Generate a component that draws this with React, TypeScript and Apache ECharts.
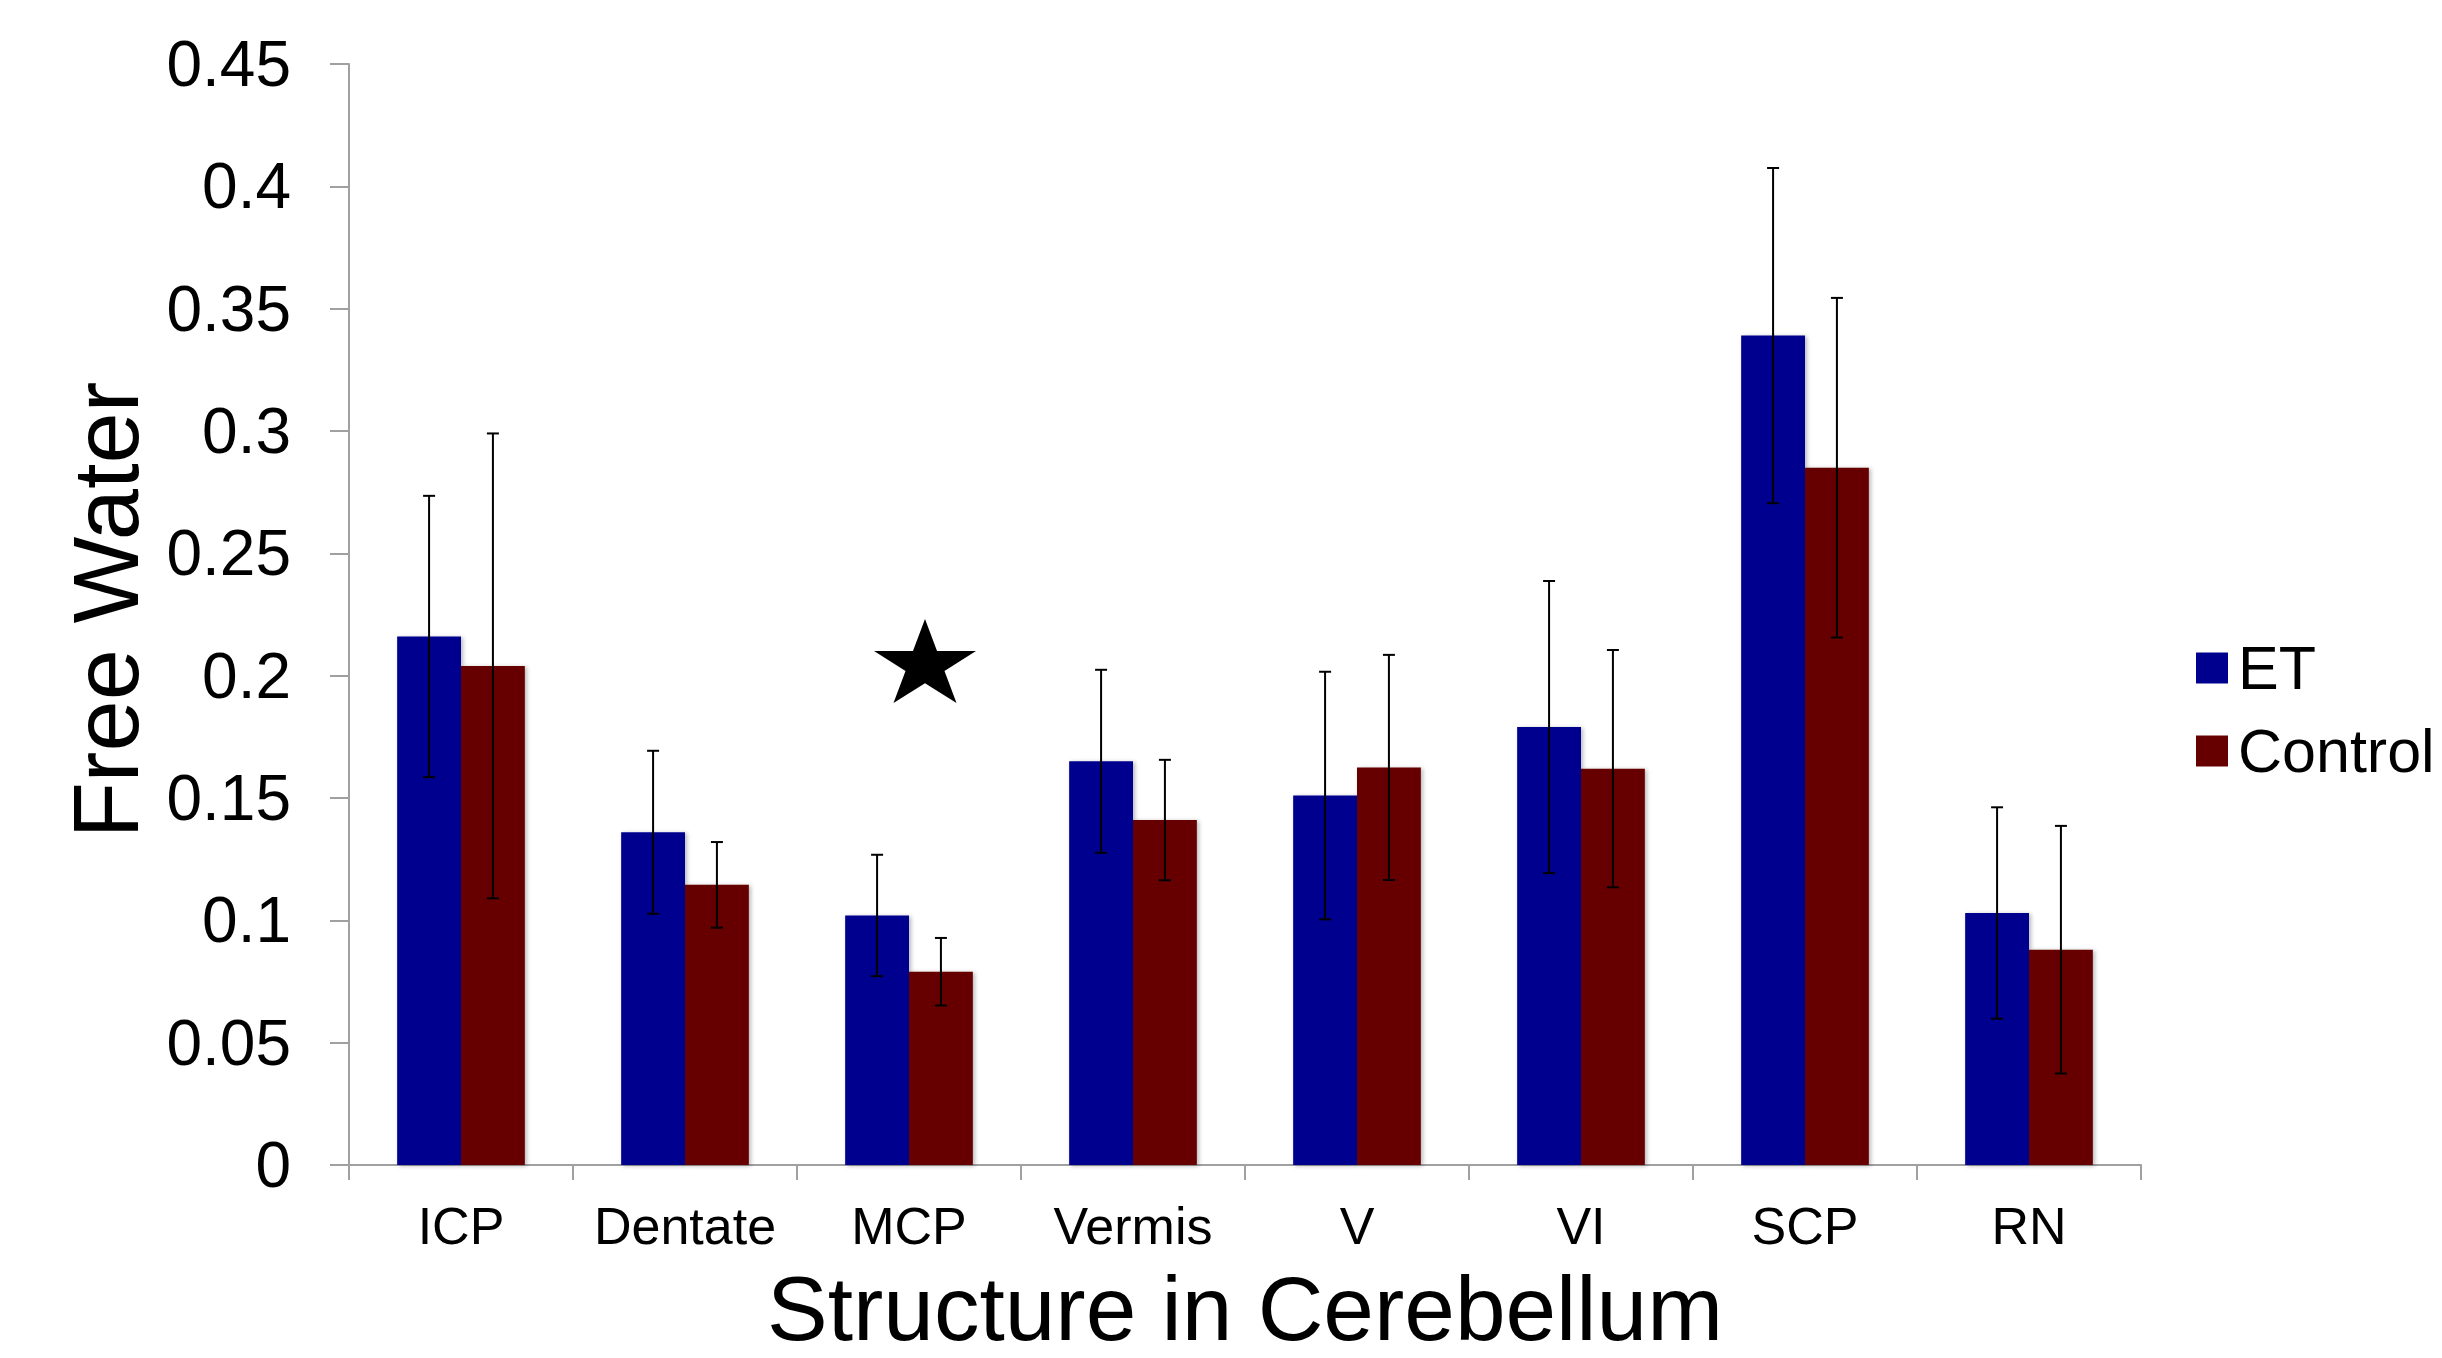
import React, { useEffect, useRef } from "react";
import * as echarts from "echarts";

const categories = ["ICP", "Dentate", "MCP", "Vermis", "V", "VI", "SCP", "RN"];
const etMeans = [0.216, 0.136, 0.102, 0.165, 0.151, 0.179, 0.339, 0.103];
const etErrors = [0.0575, 0.0333, 0.0248, 0.0374, 0.0506, 0.0597, 0.0685, 0.0432];
const controlMeans = [0.204, 0.1145, 0.079, 0.141, 0.1625, 0.162, 0.285, 0.088];
const controlErrors = [0.095, 0.0175, 0.0138, 0.0246, 0.046, 0.0485, 0.0694, 0.0506];
const seriesNames = ["ET", "Control"];
const yTicks = { min: 0, max: 0.45, interval: 0.05 };
const starMark = { category: "MCP", value: 0.206 };

const FONT = "'Liberation Sans', Arial, Helvetica, sans-serif";
const ET_COLOR = "#00008f";
const CONTROL_COLOR = "#660000";
const AXIS_COLOR = "#a0a0a0";
const CAT_GAP = 0.43;

const STAR_PATH =
  "path://M50,0 L61.23,34.55 L97.55,34.55 L68.16,55.9 L79.39,90.45 L50,69.1 L20.61,90.45 L31.84,55.9 L2.45,34.55 L38.77,34.55 Z";

function makeErrorSeries(name: string, means: number[], errs: number[], side: number) {
  return {
    type: "custom",
    name: name + " error",
    z: 5,
    silent: true,
    encode: { x: 0, y: 1 },
    data: means.map((m, i) => [i, m, errs[i]]),
    renderItem: (params: any, api: any) => {
      const idx = api.value(0);
      const mean = api.value(1);
      const err = api.value(2);
      const band = api.size([1, 0])[0];
      const off = side * band * ((1 - CAT_GAP) / 4);
      const top = api.coord([idx, mean + err]);
      const bot = api.coord([idx, mean - err]);
      const x = top[0] + off;
      const cap = 6;
      const style = { stroke: "#000", lineWidth: 2 };
      return {
        type: "group",
        children: [
          { type: "line", shape: { x1: x, y1: top[1], x2: x, y2: bot[1] }, style },
          { type: "line", shape: { x1: x - cap, y1: top[1], x2: x + cap, y2: top[1] }, style },
          { type: "line", shape: { x1: x - cap, y1: bot[1], x2: x + cap, y2: bot[1] }, style },
        ],
      };
    },
  };
}

export default function App() {
  const ref = useRef<HTMLDivElement>(null);

  useEffect(() => {
    document.body.style.margin = "0";
    if (!ref.current) return;
    const chart = echarts.init(ref.current, null, { renderer: "svg" });
    const barShadow = {
      shadowColor: "rgba(0,0,0,0.28)",
      shadowBlur: 4,
      shadowOffsetX: 2,
      shadowOffsetY: 1,
    };
    chart.setOption({
      animation: false,
      backgroundColor: "#ffffff",
      grid: { left: 349, right: 301, top: 64, bottom: 193, containLabel: false },
      legend: {
        data: seriesNames,
        orient: "vertical",
        left: 2191,
        top: 632,
        itemWidth: 32,
        itemHeight: 31,
        itemGap: 21,
        icon: "rect",
        textStyle: {
          fontSize: 61,
          fontFamily: FONT,
          color: "#000",
          lineHeight: 62,
          padding: [0, 0, 0, 5],
        },
      },
      xAxis: {
        type: "category",
        data: categories,
        boundaryGap: true,
        axisLine: { show: true, lineStyle: { color: AXIS_COLOR, width: 2 } },
        axisTick: {
          show: true,
          interval: 0,
          length: 15,
          alignWithLabel: false,
          lineStyle: { color: AXIS_COLOR, width: 2 },
        },
        axisLabel: { interval: 0, fontSize: 52, fontFamily: FONT, color: "#000", margin: 35 },
        splitLine: { show: false },
      },
      yAxis: {
        type: "value",
        min: yTicks.min,
        max: yTicks.max,
        interval: yTicks.interval,
        axisLine: { show: true, lineStyle: { color: AXIS_COLOR, width: 2 } },
        axisTick: { show: true, length: 19, inside: false, lineStyle: { color: AXIS_COLOR, width: 2 } },
        axisLabel: {
          fontSize: 64,
          fontFamily: FONT,
          color: "#000",
          margin: 58,
          formatter: (v: number) => String(Math.round(v * 100) / 100),
        },
        splitLine: { show: false },
      },
      graphic: [
        {
          type: "text",
          x: 1245,
          y: 1308,
          style: {
            text: "Structure in Cerebellum",
            fontSize: 91,
            lineHeight: 80,
            fontFamily: FONT,
            fill: "#000",
            align: "center",
            verticalAlign: "middle",
          },
        },
        {
          type: "text",
          x: 106,
          y: 610,
          rotation: Math.PI / 2,
          style: {
            text: "Free Water",
            fontSize: 92,
            fontFamily: FONT,
            fill: "#000",
            align: "center",
            verticalAlign: "middle",
          },
        },
      ],
      series: [
        {
          type: "bar",
          name: seriesNames[0],
          data: etMeans,
          barGap: "0%",
          barCategoryGap: CAT_GAP * 100 + "%",
          itemStyle: { color: ET_COLOR, ...barShadow },
          z: 2,
        },
        {
          type: "bar",
          name: seriesNames[1],
          data: controlMeans,
          barGap: "0%",
          barCategoryGap: CAT_GAP * 100 + "%",
          itemStyle: { color: CONTROL_COLOR, ...barShadow },
          z: 2,
        },
        makeErrorSeries(seriesNames[0], etMeans, etErrors, -1),
        makeErrorSeries(seriesNames[1], controlMeans, controlErrors, 1),
        {
          type: "scatter",
          name: "significance",
          silent: true,
          data: [[starMark.category, starMark.value]],
          symbol: STAR_PATH,
          symbolSize: [102, 84],
          symbolOffset: [16, 0],
          itemStyle: { color: "#000", opacity: 1 },
          z: 6,
        },
      ],
    });
    return () => {
      chart.dispose();
    };
  }, []);

  return (
    <div
      ref={ref}
      style={{ position: "fixed", left: 0, top: 0, width: 2442, height: 1358, background: "#fff" }}
    />
  );
}
